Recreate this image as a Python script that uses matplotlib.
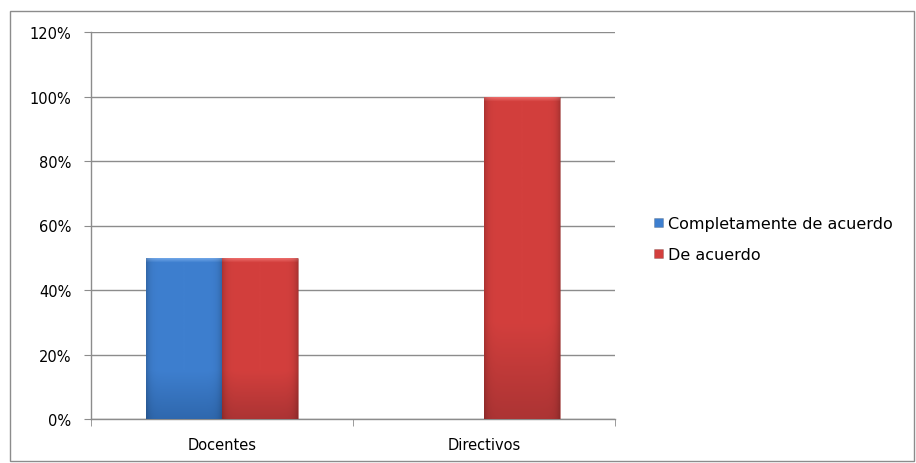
import matplotlib
matplotlib.use("Agg")
import matplotlib.pyplot as plt
import numpy as np
from matplotlib.colors import to_rgb
from matplotlib.patches import Rectangle
from matplotlib.ticker import FuncFormatter

categories = ["Docentes", "Directivos"]
series_names = ["Completamente de acuerdo", "De acuerdo"]
completamente = [0.50, 0.0]
de_acuerdo = [0.50, 1.00]
yticks = [0, 0.2, 0.4, 0.6, 0.8, 1.0, 1.2]

plt.rcParams['font.family'] = ['DejaVu Sans']
fig = plt.figure(figsize=(9.16, 4.64), dpi=100)
AX_H_PX = 387
ax = fig.add_axes([91/916, 44/464, 524/916, AX_H_PX/464])

x = np.arange(len(categories))
w = 0.29
colors = ["#3E7FCF", "#D33F3D"]
dark = ["#2F68AE", "#AC3434"]
light = ["#78ACEB", "#F07472"]
bars1 = ax.bar(x - w/2, completamente, w, color=colors[0], label=series_names[0], zorder=3)
bars2 = ax.bar(x + w/2, de_acuerdo, w, color=colors[1], label=series_names[1], zorder=3)

ymax = 1.2
for bars, i in ((bars1, 0), (bars2, 1)):
    c = np.array(to_rgb(colors[i])); d = np.array(to_rgb(dark[i])); l = np.array(to_rgb(light[i]))
    for b in bars:
        h = b.get_height()
        if h <= 0:
            continue
        n = max(int(h / ymax * AX_H_PX), 2)
        t = np.arange(n) / (n - 1)  # 0 bottom .. 1 top
        col = np.tile(c, (n, 1))
        k = np.clip((0.3 - t) / 0.3, 0, 1)[:, None]
        col = col * (1 - k) + d * k
        top = np.arange(n)[::-1]
        kb = np.clip((5 - top) / 5, 0, 1)[:, None]
        col = col * (1 - kb) + l * kb
        wpx = 64
        hx = np.linspace(0, 1, wpx)
        edge = 1 - 0.18 * (np.abs(hx - 0.5) * 2) ** 10
        img = col[:, None, :] * edge[None, :, None]
        x0 = b.get_x(); bw = b.get_width()
        im = ax.imshow(img, extent=[x0, x0 + bw, 0, h], origin="lower", aspect="auto",
                       zorder=4, interpolation="bilinear")
        im.set_clip_path(b)
        b.set_edgecolor("#00000030")
        b.set_linewidth(0.6)

ax.set_xlim(-0.5, 1.5)
ax.set_ylim(0, ymax)
ax.set_yticks(yticks)
ax.yaxis.set_major_formatter(FuncFormatter(lambda v, p: f"{v*100:.0f}%"))
ax.yaxis.grid(True, color="#8C8C8C", linewidth=1.0, zorder=0)
ax.set_axisbelow(True)
ax.set_xticks(x)
ax.set_xticklabels(categories)
ax.set_xticks([-0.5, 0.5, 1.5], minor=True)
ax.tick_params(axis="x", which="major", length=0, pad=13, labelsize=10.5, colors="#000000")
ax.tick_params(axis="x", which="minor", length=5, color="#8C8C8C", direction="out")
ax.tick_params(axis="y", length=5, color="#8C8C8C", direction="out", pad=9, labelsize=10.5)
for s in ["top", "right"]:
    ax.spines[s].set_visible(False)
for s in ["left", "bottom"]:
    ax.spines[s].set_color("#8C8C8C")
    ax.spines[s].set_linewidth(1.0)

leg = fig.legend(handles=[bars1, bars2], labels=series_names, loc="center left",
                 bbox_to_anchor=(640/916, 1 - 240/464), frameon=False, fontsize=11.5,
                 handlelength=0.55, handleheight=0.55, handletextpad=0.3, labelspacing=1.0)

fig.patches.append(Rectangle((9.5/916, 2/464), 904/916, 450/464, transform=fig.transFigure,
                             fill=False, edgecolor="#8C8C8C", linewidth=1.0))
fig.savefig("out.png", dpi=100, facecolor="white")
